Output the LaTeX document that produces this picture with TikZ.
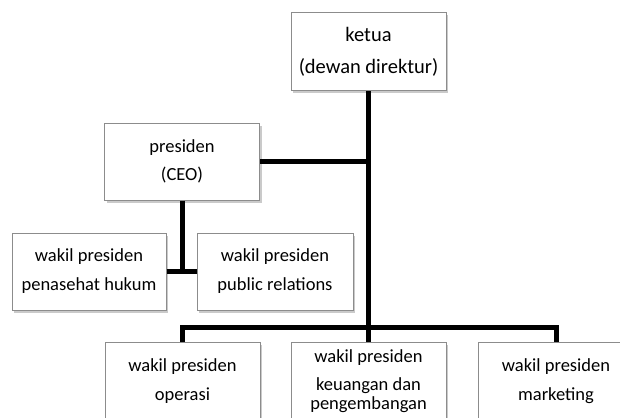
\documentclass[tikz,border=0pt]{standalone}
\usepackage{fontspec}
\setmainfont{Carlito}
\usetikzlibrary{shadows}
\begin{document}
\begin{tikzpicture}[x=1pt,y=-1pt,
  box/.style={draw=black!45, line width=1pt, fill=white, minimum width=155pt,
    minimum height=78pt, inner sep=0pt, align=center,
    font=\fontsize{18.5}{29}\selectfont,
    drop shadow={shadow xshift=2pt, shadow yshift=-2.5pt, opacity=0.35, fill=black!60}},
  conn/.style={line width=5pt, black}]
\useasboundingbox (0,0) rectangle (620,417);
\clip (0,0) rectangle (620,417);
\node[box, font=\fontsize{20.5}{32}\selectfont] (ketua) at (368.5,52) {ketua\\(dewan direktur)};
\node[box, minimum height=77pt] (pres) at (182,161.5) {presiden\\[-1pt](CEO)};
\node[box, minimum width=154pt, minimum height=77pt] (hukum) at (89,271.5) {wakil presiden\\penasehat hukum};
\node[box, minimum width=156pt, minimum height=77pt] (pr) at (275,271.5) {wakil presiden\\public relations};
\node[box] (op) at (182.5,381) {wakil presiden\\operasi};
\node[box] (keu) at (368.5,381) {wakil presiden\\[-1pt]keuangan dan\\[-10pt]pengembangan};
\node[box] (mk) at (556,381) {wakil presiden\\marketing};
\coordinate (bar) at (368.5,327);
\draw[conn] (ketua.south) -- (keu.north);
\draw[conn] (pres.east) -- (pres.east -| ketua.south);
\draw[conn] (pres.south) -- (pres.south |- hukum.east);
\draw[conn] (hukum.east) -- (pr.west);
\draw[conn] (op.north) |- (bar) -| (mk.north);
\end{tikzpicture}
\end{document}
